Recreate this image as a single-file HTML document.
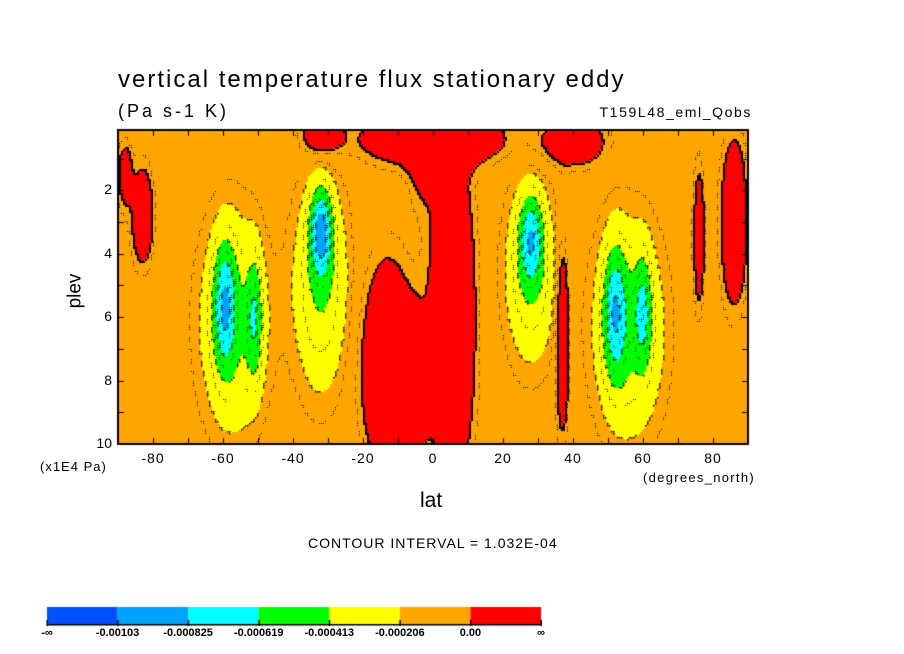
<!DOCTYPE html>
<html><head><meta charset="utf-8"><style>
body{margin:0;background:#fff;width:904px;height:654px;overflow:hidden;position:relative;font-family:"Liberation Sans",sans-serif}
.t{position:absolute;white-space:nowrap;color:#000}
canvas{position:absolute;left:0;top:0}
</style></head><body>
<canvas id="c" width="904" height="654"></canvas>
<div class="t" style="left:118px;top:66px;font-size:24px;letter-spacing:2px">vertical temperature flux stationary eddy</div>
<div class="t" style="left:118px;top:101px;font-size:18px;letter-spacing:3px">(Pa s-1 K)</div>
<div class="t" style="right:152px;top:104px;font-size:14px;letter-spacing:1.6px">T159L48_eml_Qobs</div>
<div class="t" style="left:58px;top:280px;font-size:19px;transform:rotate(-90deg)">plev</div>
<div class="t" style="left:40px;top:459px;font-size:13px;letter-spacing:1px">(x1E4 Pa)</div>
<div class="t" style="left:643px;top:470px;font-size:13px;letter-spacing:1.3px">(degrees_north)</div>
<div class="t" style="left:420px;top:489px;font-size:21px">lat</div>
<div class="t" style="left:308px;top:535px;font-size:14px;letter-spacing:1px">CONTOUR INTERVAL = 1.032E-04</div>
<div id="labels"></div>
<script>
// data (field in units of 1e-4)
const levels=[-10.3,-8.25,-6.19,-4.13,-2.06,0];
const colors=["#0050ff","#00a0ff","#00ffff","#00ff00","#ffff00","#ffa500","#ff0000"];
const levelLabels=["-∞","-0.00103","-0.000825","-0.000619","-0.000413","-0.000206","0.00","∞"];
const xTicks=[-80,-60,-40,-20,0,20,40,60,80];
const yTicks=[2,4,6,8,10];
const baseValue=-1;
// blobs: lat, plev, sigmaLat, sigmaP, amplitude
const blobLat=[-57,-59.5,-51,-32,-32,28,28,56,52,60,-13,5.5,0,-32,40,37,86,76,-83,-88,-3,-5];
const blobP  =[6.2,5.6,6,5,3.3,4.6,3.5,6.4,5.8,5.8,7.5,6,0.4,0.3,0.5,6.5,3,3.5,2.8,1.5,1,8];
const blobSL =[9,3,2.2,7.5,3,7,3.2,9.5,3.2,2.4,7,6,20,6,10,1.8,3.5,1.5,3,2,4,4];
const blobSP =[3.2,1.9,1.9,3.2,1.3,2.7,1.3,3.2,2,1.7,3,5,0.8,0.7,0.8,3,2.5,2.2,1.5,1,1.5,2];
const blobAmp=[-3.3,-5,-3.5,-3.2,-6.5,-3.2,-5,-3.3,-5,-3.6,3.5,3.4,3,2.2,2.2,3,3,2.3,2.6,2,1.5,2];

const X0=118,X1=748,Y0=130,Y1=444;
const xs=l=>X0+(l+90)/180*(X1-X0);
const ys=p=>Y1-(10-p)/9.9*(Y1-Y0);
function field(lat,p){let v=baseValue;for(let i=0;i<blobLat.length;i++){const dx=(lat-blobLat[i])/blobSL[i],dy=(p-blobP[i])/blobSP[i];v+=blobAmp[i]*Math.exp(-(dx*dx+dy*dy));}return v;}
function cls(v){let k=0;while(k<levels.length&&v>=levels[k])k++;return k;}
const c=document.getElementById('c'),g=c.getContext('2d');
const W=X1-X0,H=Y1-Y0,S=2,nx=Math.ceil(W/S),ny=Math.ceil(H/S);
const K=[],F=[];
for(let j=0;j<ny;j++){K[j]=[];F[j]=[];for(let i=0;i<nx;i++){const lat=-90+(i*S+1)/W*180,p=10-(H-(j*S+1))/H*9.9;const v=field(lat,p);F[j][i]=v;K[j][i]=cls(v);g.fillStyle=colors[K[j][i]];g.fillRect(X0+i*S,Y0+j*S,S,S);}}
g.fillStyle="#000";
const half=[-0.5,-1.5,-3.1,-5.2,-7.2];
const hc=v=>{let k=0;while(k<half.length&&v<half[k])k++;return k;};
for(let j=0;j<ny;j++)for(let i=0;i<nx;i++){const a=K[j][i];if((i+1<nx&&(K[j][i+1]==6)!=(a==6))||(j+1<ny&&(K[j+1][i]==6)!=(a==6)))g.fillRect(X0+i*S+1,Y0+j*S+1,2,2);
 else if(a<6&&((i+1<nx&&K[j][i+1]!=a)||(j+1<ny&&K[j+1][i]!=a))&&((i+j)%6<3))g.fillRect(X0+i*S+1,Y0+j*S+1,1.5,1.5);
 else if(a<6&&((i+1<nx&&hc(F[j][i+1])!=hc(F[j][i]))||(j+1<ny&&hc(F[j+1][i])!=hc(F[j][i])))&&((i+j)%6<3))g.fillRect(X0+i*S+1,Y0+j*S+1,1,1);}
g.strokeStyle="#000";g.lineWidth=2;g.strokeRect(X0,Y0,W,H);
g.lineWidth=1;
for(let l=-80;l<=80;l+=10){const x=Math.round(xs(l))+.5;g.beginPath();g.moveTo(x,Y1);g.lineTo(x,Y1-6);g.moveTo(x,Y0);g.lineTo(x,Y0+6);g.stroke();}
for(let p=1;p<=9;p+=1){const y=Math.round(ys(p))+.5;g.beginPath();g.moveTo(X0,y);g.lineTo(X0+6,y);g.moveTo(X1,y);g.lineTo(X1-6,y);g.stroke();}
// colorbar
const cb0=47,cbw=(541-47)/colors.length;
colors.forEach((col,i)=>{g.fillStyle=col;g.fillRect(cb0+i*cbw,607,cbw,17);});
g.fillStyle="#000";g.fillRect(cb0,624,494,1.5);
for(let i=0;i<=colors.length;i++)g.fillRect(cb0+i*cbw-0.5,620,1.5,6);
const L=document.getElementById('labels');
xTicks.forEach(t=>{const d=document.createElement('div');d.className='t';


d.style.cssText=`left:${xs(t)-20}px;top:450px;width:40px;text-align:center;font-size:14px;letter-spacing:1px`;d.textContent=t;L.appendChild(d);});
yTicks.forEach(t=>{const d=document.createElement('div');d.className='t';


d.style.cssText=`left:80px;top:${ys(t)-9}px;width:32px;text-align:right;font-size:14px`;d.textContent=t;L.appendChild(d);});
levelLabels.forEach((t,i)=>{const d=document.createElement('div');d.className='t';


d.style.cssText=`left:${cb0+i*cbw-40}px;top:627px;width:80px;text-align:center;font-size:11px;font-weight:bold`;d.textContent=t;L.appendChild(d);});
</script>
</body></html>
